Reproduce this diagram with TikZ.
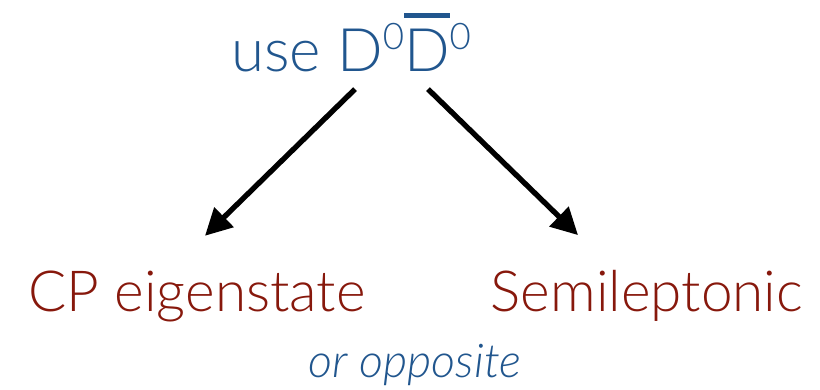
\documentclass[tikz,border=0pt]{standalone}
\usepackage{fontspec}
\setmainfont{Lato Light}
\usepackage{tikz}
\usetikzlibrary{
  arrows.meta,
  positioning,
  calc
}
\definecolor{decayblue}{RGB}{33,86,142}
\definecolor{tagred}{RGB}{135,24,12}
% anti-D with a heavier bar set well above the letter
\newsavebox\dletterbox
\newcommand\antiD{\sbox\dletterbox{D}\rlap{\raisebox{0.9em}{\rule{\wd\dletterbox}{0.075em}}}\usebox\dletterbox}
\newcommand\zerosup{\raisebox{0.38em}{\fontsize{11}{12}\selectfont 0}}
\tikzset{
  toplabel/.style={text=decayblue,inner sep=0pt,anchor=base,font=\fontsize{18}{20}\selectfont},
  tagbox/.style={text=tagred,inner sep=0pt,anchor=base,font=\fontsize{17}{19}\selectfont},
  notelabel/.style={text=decayblue,inner sep=0pt,anchor=base,font=\itshape\fontsize{14}{16}\selectfont},
  flowarrow/.style={-{Triangle[length=8pt,width=8pt]},line width=1.6pt,draw=black},
}

\begin{document}
\begin{tikzpicture}[x=0.3pt,y=-0.3pt]
  \useasboundingbox (0,0) rectangle (820,390);

  % initial state and the two tags
  \node[toplabel] (use) at (351,72) {use D\zerosup\antiD\zerosup};
  \node[tagbox] (cp) at (197,312) {CP eigenstate};
  \node[tagbox] (semi) at (647,312) {Semileptonic};
  \node[notelabel] (opp) at (415,378) {or opposite};

  % branches
  \draw[flowarrow] ($(use.south)+(4,16)$) -- ($(cp.north)+(8,-35)$);
  \draw[flowarrow] ($(use.south)+(77,16)$) -- ($(semi.north)+(-69,-35)$);
\end{tikzpicture}
\end{document}
